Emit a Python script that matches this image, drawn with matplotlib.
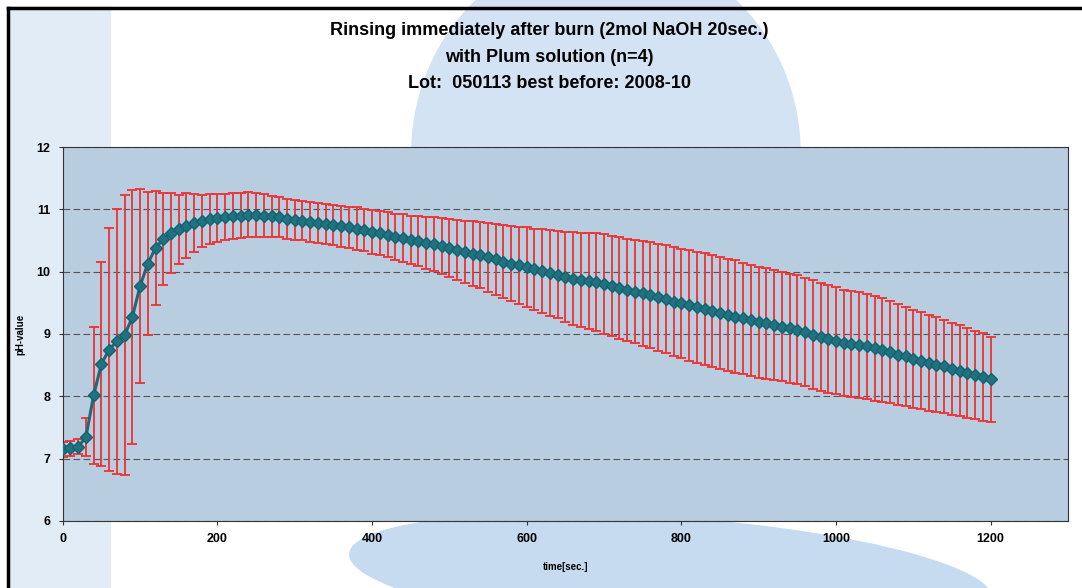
import numpy as np
import matplotlib
matplotlib.use("Agg")
import matplotlib.pyplot as plt
from matplotlib.patches import Ellipse, Rectangle

plt.rcParams['font.family'] = ['Liberation Sans', 'DejaVu Sans']

# measurement every 10 seconds, 0..1200
time_sec = np.arange(0, 1210, 10)

ph_mean = [
    7.15, 7.17, 7.19, 7.35, 8.02, 8.52, 8.75, 8.88, 8.98, 9.27,
    9.77, 10.13, 10.38, 10.52, 10.62, 10.68, 10.74, 10.78, 10.81, 10.84,
    10.86, 10.88, 10.89, 10.90, 10.91, 10.91, 10.90, 10.89, 10.87, 10.85,
    10.83, 10.82, 10.80, 10.78, 10.76, 10.75, 10.73, 10.71, 10.69, 10.67,
    10.64, 10.62, 10.59, 10.56, 10.54, 10.51, 10.49, 10.46, 10.44, 10.41,
    10.38, 10.35, 10.32, 10.29, 10.26, 10.23, 10.20, 10.16, 10.13, 10.10,
    10.07, 10.04, 10.01, 9.98, 9.95, 9.92, 9.89, 9.87, 9.85, 9.83,
    9.80, 9.77, 9.74, 9.71, 9.68, 9.65, 9.62, 9.59, 9.56, 9.52,
    9.49, 9.46, 9.43, 9.40, 9.37, 9.34, 9.31, 9.28, 9.25, 9.22,
    9.19, 9.17, 9.14, 9.12, 9.09, 9.07, 9.03, 8.99, 8.95, 8.92,
    8.89, 8.86, 8.84, 8.82, 8.80, 8.77, 8.74, 8.71, 8.67, 8.64,
    8.60, 8.57, 8.54, 8.51, 8.48, 8.44, 8.41, 8.38, 8.34, 8.31,
    8.27,
]

ph_sd = [
    0.12, 0.12, 0.12, 0.31, 1.10, 1.64, 1.95, 2.13, 2.25, 2.04,
    1.55, 1.15, 0.91, 0.74, 0.64, 0.55, 0.52, 0.46, 0.42, 0.40,
    0.38, 0.37, 0.37, 0.36, 0.36, 0.35, 0.34, 0.33, 0.32, 0.32,
    0.32, 0.32, 0.32, 0.32, 0.32, 0.32, 0.33, 0.33, 0.34, 0.34,
    0.35, 0.36, 0.36, 0.37, 0.38, 0.39, 0.40, 0.41, 0.43, 0.45,
    0.47, 0.48, 0.50, 0.52, 0.53, 0.55, 0.57, 0.59, 0.60, 0.62,
    0.64, 0.65, 0.67, 0.69, 0.70, 0.72, 0.74, 0.75, 0.77, 0.79,
    0.80, 0.81, 0.82, 0.82, 0.83, 0.84, 0.85, 0.86, 0.87, 0.88,
    0.88, 0.89, 0.89, 0.90, 0.90, 0.90, 0.90, 0.90, 0.89, 0.89,
    0.89, 0.89, 0.88, 0.88, 0.88, 0.87, 0.87, 0.87, 0.86, 0.86,
    0.86, 0.85, 0.85, 0.85, 0.84, 0.84, 0.83, 0.82, 0.81, 0.80,
    0.79, 0.78, 0.77, 0.76, 0.75, 0.74, 0.73, 0.72, 0.71, 0.70,
    0.68,
]

title_lines = [
    "Rinsing immediately after burn (2mol NaOH 20sec.)",
    "with Plum solution (n=4)",
    "Lot:  050113 best before: 2008-10",
]

fig = plt.figure(figsize=(10.82, 5.88), dpi=100)
fig.patch.set_facecolor('white')

# background layer with the light blue blobs of the scan
bg = fig.add_axes([0, 0, 1, 1], zorder=-1)
bg.set_xlim(0, 1)
bg.set_ylim(0, 1)
bg.axis('off')
bg.add_patch(Rectangle((0.008, 0.0), 0.095, 0.99, color='#e2ecf7', lw=0))
bg.add_patch(Ellipse((0.56, 0.74), 0.36, 0.70, color='#d3e3f4', lw=0))
bg.add_patch(Ellipse((0.93, 0.80), 0.12, 0.30, color='#ffffff', lw=0))
bg.add_patch(Ellipse((0.62, 0.02), 0.60, 0.20, angle=-8, color='#c6dbf0', lw=0))
# scan frame
bg.plot([0.0075, 0.0075], [0.0, 0.987], color='black', lw=2.5)
bg.plot([0.0075, 1.0], [0.987, 0.987], color='black', lw=2.5)

ax = fig.add_axes([0.058, 0.114, 0.929, 0.636], zorder=1)
ax.set_facecolor('#b9cde1')

ax.errorbar(time_sec, ph_mean, yerr=ph_sd, fmt='none', ecolor='#f03030',
            elinewidth=1.3, capsize=3.5, capthick=1.3, zorder=2)
ax.plot(time_sec, ph_mean, color='#1d6b78', lw=2.2, marker='D', markersize=6.5,
        markerfacecolor='#1f7380', markeredgecolor='#17606c', zorder=3)

ax.set_xlim(0, 1300)
ax.set_ylim(6, 12)
ax.set_xticks([0, 200, 400, 600, 800, 1000, 1200])
ax.set_yticks([6, 7, 8, 9, 10, 11, 12])
ax.grid(axis='y', color='#555555', linestyle=(0, (6, 3)), lw=0.8)
ax.set_axisbelow(True)

for s in ax.spines.values():
    s.set_color('#333333')
    s.set_linewidth(0.8)

ax.tick_params(axis='both', length=3, color='#333333', labelsize=9, pad=6)
for lab in ax.get_xticklabels() + ax.get_yticklabels():
    lab.set_fontweight('bold')

ax.set_ylabel("pH-value", fontsize=7, fontweight='bold', labelpad=8)
ax.set_xlabel("time[sec.]", fontsize=7, fontweight='bold', labelpad=12)

for i, line in enumerate(title_lines):
    fig.text(0.508, 0.948 - i * 0.045, line, ha='center', va='center',
             fontsize=13, fontweight='bold')

fig.savefig("out.png", dpi=100)
